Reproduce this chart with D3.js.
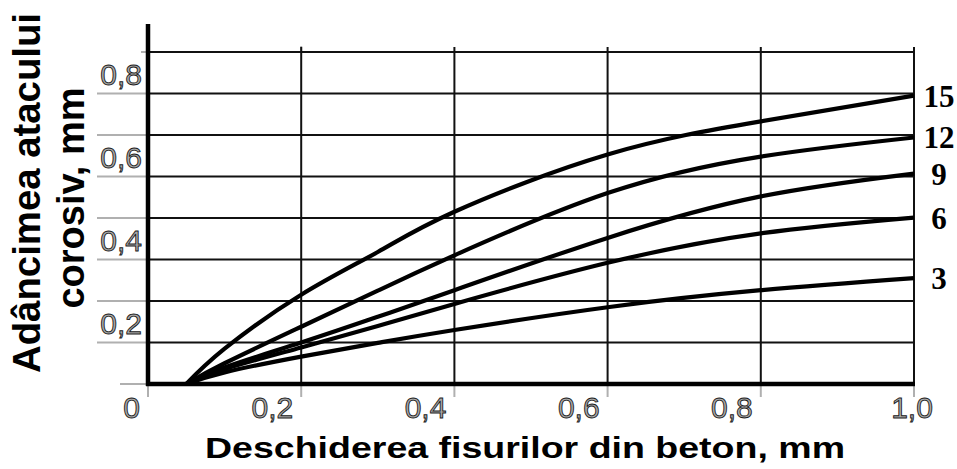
<!DOCTYPE html>
<html>
<head>
<meta charset="utf-8">
<script src="https://cdn.jsdelivr.net/npm/d3@7/dist/d3.min.js"></script>
<style>
  html, body { margin: 0; padding: 0; background: #fff; }
  svg { display: block; }
</style>
</head>
<body>
<script>
// ---- data ----
const xValues = [0.05, 0.1, 0.2, 0.3, 0.4, 0.6, 0.8, 1.0];
const series15 = [0, 0.085, 0.215, 0.318, 0.415, 0.553, 0.633, 0.695];
const series12 = [0, 0.050, 0.138, 0.225, 0.310, 0.460, 0.548, 0.594];
const series9  = [0, 0.040, 0.100, 0.162, 0.226, 0.352, 0.452, 0.507];
const series6  = [0, 0.036, 0.088, 0.140, 0.193, 0.292, 0.363, 0.401];
const series3  = [0, 0.028, 0.066, 0.099, 0.130, 0.185, 0.226, 0.255];
const seriesNames = ["15", "12", "9", "6", "3"];
const xTickValues = [0, 0.2, 0.4, 0.6, 0.8, 1.0];
const xTickLabels = ["0", "0,2", "0,4", "0,6", "0,8", "1,0"];
const yTickValues = [0.2, 0.4, 0.6, 0.8];
const yTickLabels = ["0,2", "0,4", "0,6", "0,8"];
const yGridValues = [0.1, 0.2, 0.3, 0.4, 0.5, 0.6, 0.7, 0.8];
const xTitle = "Deschiderea fisurilor din beton, mm";
const yTitle1 = "Adâncimea atacului";
const yTitle2 = "corosiv, mm";

const allSeries = [series15, series12, series9, series6, series3];

// ---- layout ----
const W = 957, H = 469;
const svg = d3.select("body").append("svg").attr("width", W).attr("height", H);
svg.append("rect").attr("width", W).attr("height", H).attr("fill", "#fff");

const x = d3.scaleLinear().domain([0, 1]).range([148, 914]);
const y = d3.scaleLinear().domain([0, 0.8]).range([384, 52]);

const tickFont = "'Liberation Sans', Arial, sans-serif";

// gray tick stubs
const stubs = svg.append("g").attr("stroke", "#b0b0b0").attr("stroke-width", 2);
yGridValues.forEach(v => {
  const x0 = v === 0.8 ? x(0) - 7 : 97;
  stubs.append("line").attr("x1", x0).attr("x2", x(0)).attr("y1", y(v)).attr("y2", y(v));
});
stubs.append("line").attr("x1", 120).attr("x2", x(0)).attr("y1", y(0)).attr("y2", y(0));
xTickValues.forEach(v => {
  stubs.append("line").attr("x1", x(v)).attr("x2", x(v)).attr("y1", y(0)).attr("y2", y(0) + 13);
});
stubs.append("line").attr("x1", x(0.2)).attr("x2", x(0.2)).attr("y1", y(0.8) - 6).attr("y2", y(0.8));

// grid
const grid = svg.append("g").attr("stroke", "#111").attr("stroke-width", 2);
yGridValues.forEach(v => {
  grid.append("line").attr("x1", x(0)).attr("x2", x(1)).attr("y1", y(v)).attr("y2", y(v));
});
xTickValues.slice(1).forEach(v => {
  grid.append("line").attr("x1", x(v)).attr("x2", x(v)).attr("y1", y(0.8) - 5).attr("y2", y(0));
});

// axes (thick)
svg.append("line").attr("x1", x(0)).attr("x2", x(0)).attr("y1", 24).attr("y2", y(0) + 2)
  .attr("stroke", "#000").attr("stroke-width", 4.5);
svg.append("line").attr("x1", x(0) - 2).attr("x2", x(1) + 1).attr("y1", y(0)).attr("y2", y(0))
  .attr("stroke", "#000").attr("stroke-width", 4.5);

// curves
const line = d3.line().x((d, i) => x(xValues[i])).y(d => y(d)).curve(d3.curveNatural);
svg.append("g").selectAll("path").data(allSeries).join("path")
  .attr("d", d => line(d))
  .attr("fill", "none").attr("stroke", "#000").attr("stroke-width", 4.2)
  .attr("stroke-linejoin", "round");

// curve labels
svg.append("g").selectAll("text").data(allSeries).join("text")
  .attr("x", x(1) + 25)
  .attr("y", d => y(d[d.length - 1]) + 11)
  .attr("text-anchor", "middle")
  .attr("font-family", "'Liberation Serif', 'Times New Roman', serif")
  .attr("font-weight", "bold")
  .attr("font-size", 31)
  .text((d, i) => seriesNames[i]);

// tick labels
const tl = svg.append("g").attr("font-family", tickFont).attr("font-size", 30)
  .attr("fill", "#aaa").attr("stroke", "#1a1a1a").attr("stroke-width", 0.9);
yTickValues.forEach((v, i) => {
  tl.append("text").attr("x", 142).attr("y", y(v) + 33).attr("text-anchor", "end").text(yTickLabels[i]);
});
xTickValues.forEach((v, i) => {
  const last = i === xTickValues.length - 1;
  tl.append("text")
    .attr("x", last ? x(v) - 2 : x(v) - 8)
    .attr("y", 418)
    .attr("text-anchor", last ? "middle" : "end")
    .text(xTickLabels[i]);
});

// axis titles
const titleFont = "'Liberation Sans', Arial, sans-serif";
svg.append("text").attr("x", 205).attr("y", 458)
  .attr("font-family", titleFont).attr("font-weight", "bold").attr("font-size", 29)
  .attr("textLength", 640).attr("lengthAdjust", "spacingAndGlyphs")
  .text(xTitle);

const yt = svg.append("g").attr("transform", "translate(0,193) rotate(-90)")
  .attr("font-family", titleFont).attr("font-weight", "bold").attr("font-size", 38)
  .attr("text-anchor", "middle");
yt.append("text").attr("x", 0).attr("y", 40).attr("textLength", 360).attr("lengthAdjust", "spacingAndGlyphs").text(yTitle1);
yt.append("text").attr("x", -5).attr("y", 84).text(yTitle2);
</script>
</body>
</html>
